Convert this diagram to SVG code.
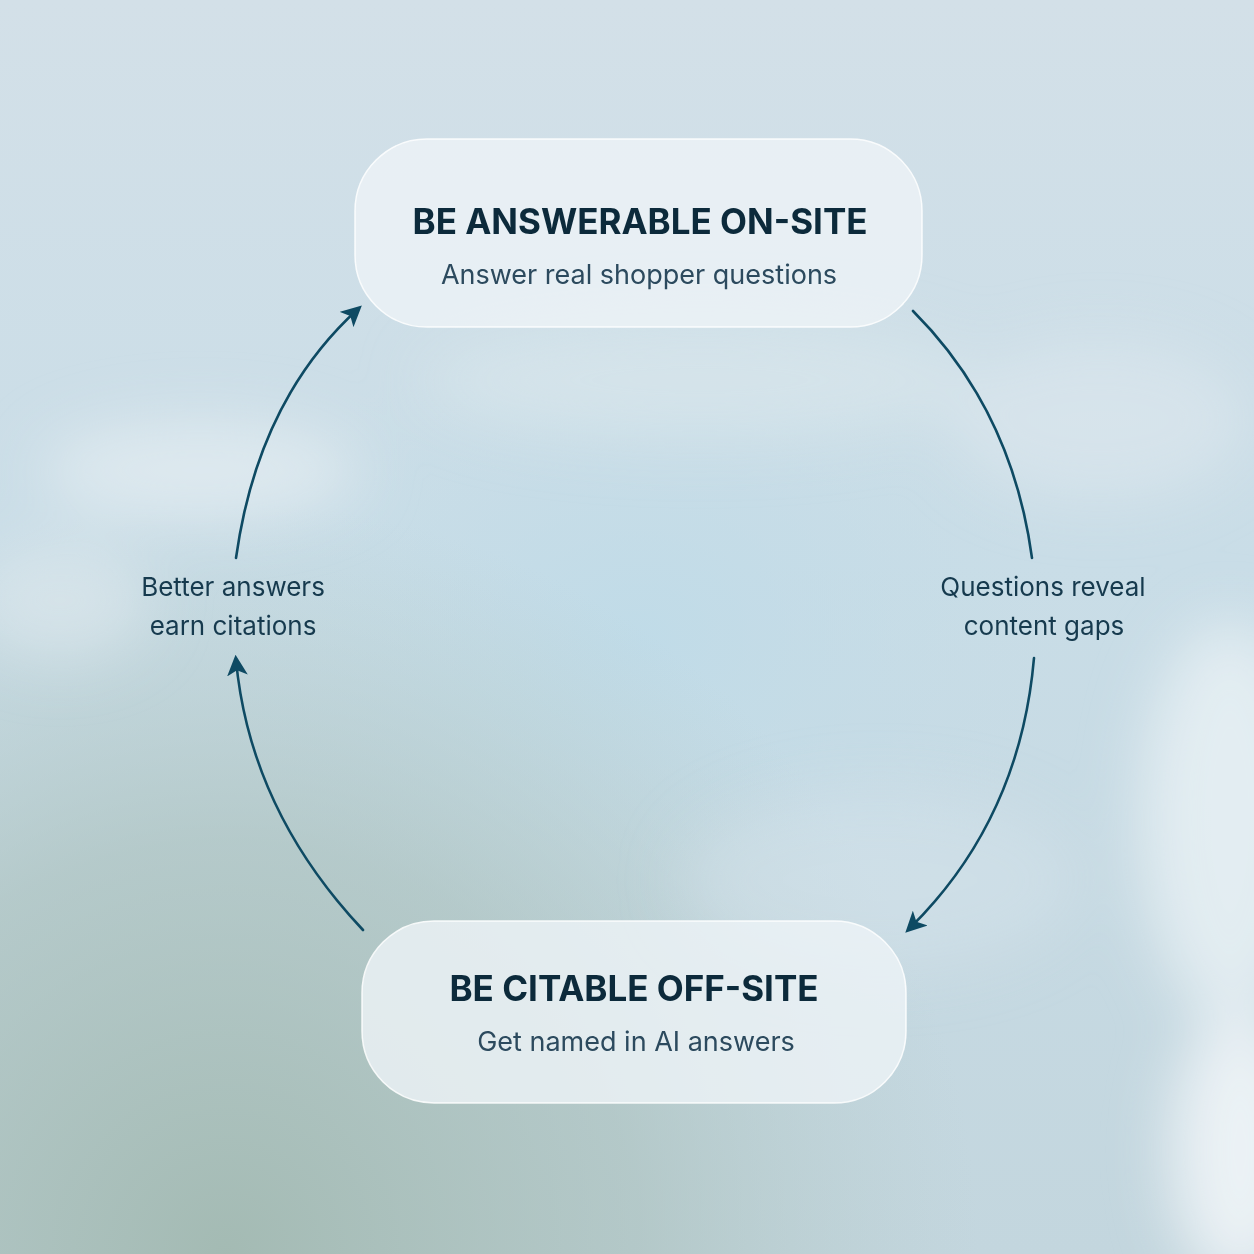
<svg xmlns="http://www.w3.org/2000/svg" width="1254" height="1254" viewBox="0 0 1254 1254">
  <defs>
    <linearGradient id="bg" x1="0" y1="0" x2="0" y2="1">
      <stop offset="0" stop-color="#d3e0e8"/>
      <stop offset="0.45" stop-color="#c9dde7"/>
      <stop offset="1" stop-color="#c3d6de"/>
    </linearGradient>
    <radialGradient id="green" cx="0.18" cy="1" r="0.6">
      <stop offset="0" stop-color="#a2b9b1" stop-opacity="0.95"/>
      <stop offset="0.55" stop-color="#a9bfba" stop-opacity="0.6"/>
      <stop offset="1" stop-color="#b5cac8" stop-opacity="0"/>
    </radialGradient>
    <radialGradient id="blue" cx="0.5" cy="0.5" r="0.5">
      <stop offset="0" stop-color="#bfdbe8" stop-opacity="0.9"/>
      <stop offset="1" stop-color="#c4dce7" stop-opacity="0"/>
    </radialGradient>
    <filter id="blur" x="-30%" y="-30%" width="160%" height="160%">
      <feGaussianBlur stdDeviation="30"/>
    </filter>
    <marker id="arrow" viewBox="0 0 12 12" refX="9" refY="6" markerWidth="8" markerHeight="8" markerUnits="strokeWidth" orient="auto-start-reverse">
      <path d="M0,0 L12,6 L0,12 L3,6 Z" fill="#0e4a63"/>
    </marker>
    <style>
      .box { fill: #edf3f6; fill-opacity: 0.82; stroke: #ffffff; stroke-opacity: 0.85; stroke-width: 1.5; }
      .title { font-family: Inter, "Noto Sans", "Liberation Sans", sans-serif; font-weight: 700; font-size: 35px; fill: #0c2a3b; text-anchor: middle; }
      .sub { font-family: Inter, "Noto Sans", "Liberation Sans", sans-serif; font-weight: 400; font-size: 27px; fill: #2c4a5e; text-anchor: middle; }
      .lbl { font-family: Inter, "Noto Sans", "Liberation Sans", sans-serif; font-weight: 400; font-size: 26px; fill: #163a4e; text-anchor: middle; }
      .conn { fill: none; stroke: #0e4a63; stroke-width: 2.6; stroke-linecap: round; }
    </style>
  </defs>

  <g id="background">
    <rect width="1254" height="1254" fill="url(#bg)"/>
    <ellipse cx="640" cy="640" rx="420" ry="330" fill="url(#blue)"/>
    <rect width="1254" height="1254" fill="url(#green)"/>
    <g filter="url(#blur)">
      <ellipse cx="1230" cy="820" rx="90" ry="200" fill="#eaf1f5" opacity="0.8"/>
      <ellipse cx="1240" cy="1150" rx="70" ry="140" fill="#f0f4f7" opacity="0.9"/>
      <ellipse cx="200" cy="470" rx="160" ry="50" fill="#e6eef2" opacity="0.7"/>
      <ellipse cx="700" cy="380" rx="280" ry="60" fill="#dbe7ed" opacity="0.6"/>
      <ellipse cx="1100" cy="420" rx="150" ry="80" fill="#dde8ee" opacity="0.6"/>
      <ellipse cx="880" cy="880" rx="200" ry="90" fill="#d6e4ec" opacity="0.5"/>
      <ellipse cx="60" cy="600" rx="90" ry="60" fill="#dfe9ee" opacity="0.6"/>
    </g>
  </g>

  <g id="connectors">
    <path class="conn" d="M236,558 Q258,400 358,309" marker-end="url(#arrow)"/>
    <path class="conn" d="M363,930 Q250,810 236,660" marker-end="url(#arrow)"/>
    <path class="conn" d="M913,311 Q1012,410 1032,558"/>
    <path class="conn" d="M1034,658 Q1020,820 909,929" marker-end="url(#arrow)"/>
  </g>

  <g id="node-answerable">
    <rect class="box" x="355" y="139" width="567" height="188" rx="72"/>
    <text class="title" x="640" y="234">BE ANSWERABLE ON-SITE</text>
    <text class="sub" x="639" y="284">Answer real shopper questions</text>
  </g>

  <g id="node-citable">
    <rect class="box" x="362" y="921" width="544" height="182" rx="72"/>
    <text class="title" x="634" y="1001">BE CITABLE OFF-SITE</text>
    <text class="sub" x="636" y="1051">Get named in AI answers</text>
  </g>

  <g id="label-left">
    <text class="lbl" x="233" y="596">Better answers</text>
    <text class="lbl" x="233" y="635">earn citations</text>
  </g>

  <g id="label-right">
    <text class="lbl" x="1043" y="596">Questions reveal</text>
    <text class="lbl" x="1044" y="635">content gaps</text>
  </g>
</svg>
